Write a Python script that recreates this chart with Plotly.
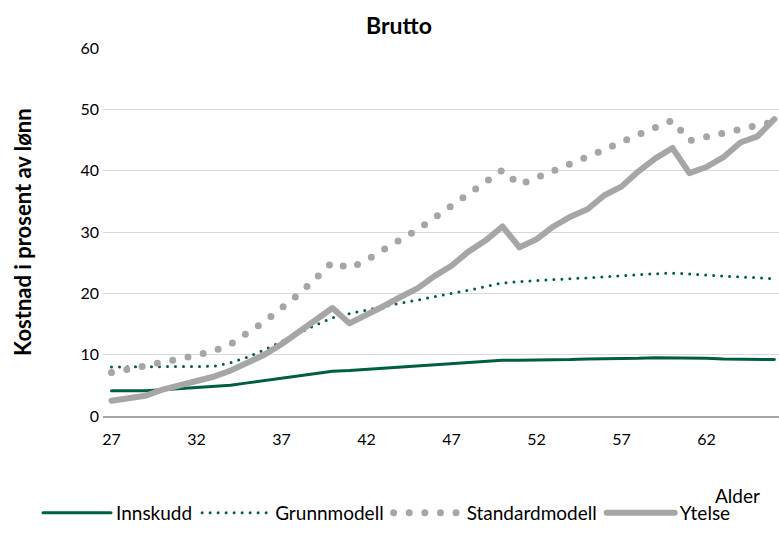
import plotly.graph_objects as go

# alder (x-akse)
ages = [27, 28, 29, 30, 31, 32, 33, 34, 35, 36,
        37, 38, 39, 40, 41, 42, 43, 44, 45, 46,
        47, 48, 49, 50, 51, 52, 53, 54, 55, 56,
        57, 58, 59, 60, 61, 62, 63, 64, 65, 66]

innskudd = [4.1, 4.1, 4.1, 4.3, 4.5, 4.7, 4.8, 5.0, 5.4, 5.8,
            6.2, 6.6, 7.0, 7.3, 7.4, 7.6, 7.8, 7.9, 8.1, 8.3,
            8.5, 8.7, 8.9, 9.1, 9.1, 9.1, 9.2, 9.2, 9.3, 9.3,
            9.4, 9.4, 9.5, 9.5, 9.4, 9.4, 9.3, 9.3, 9.2, 9.2]

grunnmodell = [8.0, 8.0, 8.0, 8.0, 8.0, 8.0, 8.1, 8.7, 9.6, 10.8,
               12.2, 13.5, 14.8, 16.0, 16.7, 17.3, 17.9, 18.4, 18.9, 19.5,
               20.0, 20.5, 21.1, 21.7, 21.9, 22.1, 22.2, 22.4, 22.5, 22.7,
               22.8, 23.0, 23.2, 23.3, 23.2, 23.0, 22.8, 22.7, 22.5, 22.4]

standardmodell = [7.1, 7.6, 8.2, 8.8, 9.3, 9.9, 10.6, 11.7, 13.5, 15.4,
                  17.6, 19.8, 22.4, 25.1, 24.1, 25.4, 27.1, 28.7, 30.4, 32.3,
                  34.2, 36.2, 38.1, 40.1, 37.7, 38.8, 39.9, 40.9, 42.1, 43.4,
                  44.7, 45.9, 47.1, 48.2, 44.9, 45.5, 46.0, 46.7, 47.2, 48.0]

ytelse = [2.5, 2.9, 3.3, 4.3, 5.0, 5.7, 6.4, 7.4, 8.6, 10.0,
          11.7, 13.7, 15.6, 17.6, 15.1, 16.4, 17.9, 19.4, 20.8, 22.8,
          24.5, 26.8, 28.6, 30.9, 27.5, 28.8, 30.9, 32.5, 33.7, 36.0,
          37.4, 39.9, 42.0, 43.7, 39.6, 40.6, 42.2, 44.6, 45.6, 48.4]

tick_ages = [27, 32, 37, 42, 47, 52, 57, 62]
y_ticks = [0, 10, 20, 30, 40, 50, 60]

GREEN = "#005F3C"
GREY = "#A6A6A6"
FONT = "Lato, 'Noto Sans', sans-serif"

fig = go.Figure()
fig.add_trace(go.Scatter(x=ages, y=innskudd, mode="lines", name="Innskudd",
                         line=dict(color=GREEN, width=3)))
fig.add_trace(go.Scatter(x=ages, y=grunnmodell, mode="lines", name="Grunnmodell",
                         line=dict(color=GREEN, width=3, dash="0px,8px")))
fig.add_trace(go.Scatter(x=ages, y=standardmodell, mode="lines", name="Standardmodell",
                         line=dict(color=GREY, width=7, dash="0px,15.6px")))
fig.add_trace(go.Scatter(x=ages, y=ytelse, mode="lines", name="Ytelse",
                         line=dict(color=GREY, width=6)))

fig.update_layout(
    width=779, height=533,
    margin=dict(l=103, r=0, t=48, b=117),
    plot_bgcolor="white", paper_bgcolor="white",
    font=dict(family=FONT, size=16, color="#000000"),
    title=dict(text="<b>Brutto</b>", x=399 / 779, xanchor="center",
               y=1 - 26 / 533, yanchor="middle", font=dict(size=23)),
    xaxis=dict(range=[26.5, 66.27], tickmode="array", tickvals=tick_ages,
               showgrid=False, zeroline=False, showline=True,
               linecolor=GREY, linewidth=1.5, ticks="", ticklabelstandoff=8),
    yaxis=dict(range=[0, 60], tickmode="array", tickvals=y_ticks,
               showgrid=True, gridcolor="#D9D9D9", gridwidth=1,
               zeroline=False, showline=False, ticks="", ticklabelstandoff=3),
    showlegend=True,
    legend=dict(orientation="h", x=(38 - 103) / 676, xanchor="left",
                y=-0.263, yanchor="middle", font=dict(size=19),
                itemwidth=68, tracegroupgap=0),
    annotations=[
        dict(text="<b>Kostnad i prosent av lønn</b>", textangle=-90,
             xref="paper", yref="paper", x=-0.12, y=0.5,
             xanchor="center", yanchor="middle", showarrow=False,
             font=dict(size=22)),
        dict(text="Alder", xref="paper", yref="paper", x=0.975, y=-0.215,
             xanchor="right", yanchor="middle", showarrow=False,
             font=dict(size=19)),
    ],
)

# ingen marg rundt siden, og runde ender på linjene slik at prikkene blir runde
page_css = ("var s=document.createElement('style');"
            "s.textContent='body{margin:0}.js-line{stroke-linecap:round;stroke-linejoin:round}';"
            "document.head.appendChild(s);")

fig.write_html("out.html", post_script=page_css, config={"displayModeBar": False})
